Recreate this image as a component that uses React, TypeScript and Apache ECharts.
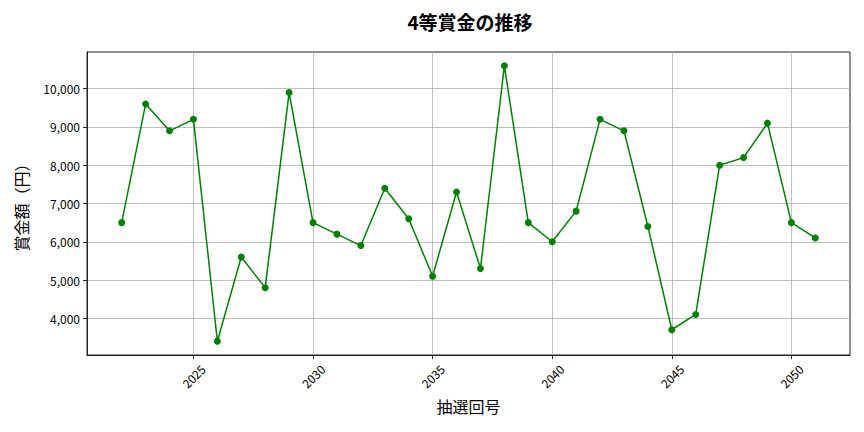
import { useEffect, useRef } from 'react'
import * as echarts from 'echarts'

// 抽選回号と4等賞金（円）
const rounds = [
  2022, 2023, 2024, 2025, 2026, 2027, 2028, 2029, 2030, 2031,
  2032, 2033, 2034, 2035, 2036, 2037, 2038, 2039, 2040, 2041,
  2042, 2043, 2044, 2045, 2046, 2047, 2048, 2049, 2050, 2051
]
const prizes = [
  6500, 9600, 8900, 9200, 3400, 5600, 4800, 9900, 6500, 6200,
  5900, 7400, 6600, 5100, 7300, 5300, 10600, 6500, 6000, 6800,
  9200, 8900, 6400, 3700, 4100, 8000, 8200, 9100, 6500, 6100
]
const xTicks = [2025, 2030, 2035, 2040, 2045, 2050]
const yTicks = [4000, 5000, 6000, 7000, 8000, 9000, 10000]

const FONT = '"Noto Sans CJK JP", "Noto Sans", sans-serif'

const App: React.FC = () => {
  const chartRef = useRef<HTMLDivElement>(null)

  useEffect(() => {
    if (chartRef.current === null) return
    const chart = echarts.init(chartRef.current, null, { renderer: 'svg' })
    chart.setOption({
      animation: false,
      textStyle: { fontFamily: FONT },
      title: {
        text: '4等賞金の推移',
        left: 465,
        top: 7,
        textAlign: 'center',
        textStyle: { fontSize: 19, fontWeight: 'bold', color: '#000', fontFamily: FONT }
      },
      grid: {
        left: 87,
        right: 14,
        top: 52,
        bottom: 77,
        show: true,
        borderColor: '#222',
        borderWidth: 1
      },
      xAxis: {
        type: 'value',
        min: 2020.55,
        max: 2052.45,
        name: '抽選回号',
        nameLocation: 'middle',
        nameGap: 43,
        nameTextStyle: { fontSize: 16, color: '#000', fontFamily: FONT },
        axisLine: { show: true, lineStyle: { color: '#222' } },
        axisTick: { show: true, customValues: xTicks, length: 4, lineStyle: { color: '#222' } },
        axisLabel: {
          customValues: xTicks,
          rotate: 45,
          align: 'center',
          verticalAlign: 'middle',
          margin: 21,
          fontSize: 12,
          color: '#000',
          formatter: (v: number) => String(v)
        },
        splitLine: { show: true, lineStyle: { color: '#b0b0b0', width: 0.8 } }
      },
      yAxis: {
        type: 'value',
        min: 3040,
        max: 10960,
        name: '賞金額（円）',
        nameLocation: 'middle',
        nameGap: 58,
        nameRotate: 90,
        nameTextStyle: { fontSize: 16, color: '#000', fontFamily: FONT },
        axisLine: { show: true, lineStyle: { color: '#222' } },
        axisTick: { show: true, customValues: yTicks, length: 4, lineStyle: { color: '#222' } },
        axisLabel: {
          customValues: yTicks,
          margin: 7,
          fontSize: 12,
          color: '#000',
          formatter: (v: number) => v.toLocaleString('en-US')
        },
        splitLine: { show: true, lineStyle: { color: '#b0b0b0', width: 0.8 } }
      },
      series: [
        {
          type: 'line',
          data: rounds.map((r, i) => [r, prizes[i]]),
          symbol: 'circle',
          symbolSize: 7,
          itemStyle: { color: '#008000' },
          lineStyle: { color: '#008000', width: 1.5 }
        }
      ]
    })
    return () => {
      chart.dispose()
    }
  }, [])

  return <div ref={chartRef} style={{ width: 864, height: 432, margin: -8 }}></div>
}

export default App
